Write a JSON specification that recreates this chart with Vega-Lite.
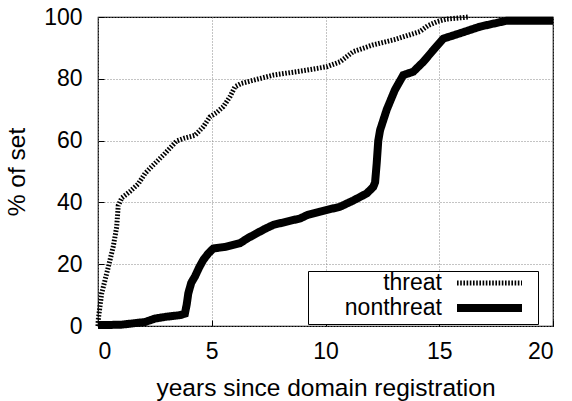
{
  "$schema": "https://vega.github.io/schema/vega-lite/v6.json",
  "width": 455,
  "height": 309,
  "autosize": {"type": "none"},
  "padding": {"left": 98, "top": 17, "right": 19, "bottom": 75},
  "background": "white",
  "config": {
    "font": "Liberation Sans",
    "view": {"stroke": "black", "strokeWidth": 1.2},
    "axis": {
      "domain": false,
      "labelFontSize": 23,
      "titleFontSize": 24.5,
      "titleFontWeight": "normal",
      "labelColor": "black",
      "titleColor": "black",
      "tickColor": "black",
      "gridColor": "#888888",
      "gridDash": [1, 2],
      "gridWidth": 1,
      "gridOpacity": 1
    },
    "legend": {
      "orient": "none",
      "legendX": 210,
      "legendY": 254,
      "strokeColor": "black",
      "fillColor": "white",
      "padding": 0,
      "cornerRadius": 0,
      "symbolType": "stroke",
      "symbolSize": 64,
      "symbolStrokeColor": "black",
      "labelFontSize": 23,
      "labelColor": "black",
      "labelLimit": 400,
      "rowPadding": -3
    }
  },
  "data": {
    "values": [
      {"series": "threat", "x": 0, "y": 0},
      {"series": "threat", "x": 0.01, "y": 2},
      {"series": "threat", "x": 0.16, "y": 10.5},
      {"series": "threat", "x": 0.45, "y": 19},
      {"series": "threat", "x": 0.67, "y": 25.7},
      {"series": "threat", "x": 0.82, "y": 32},
      {"series": "threat", "x": 0.89, "y": 39},
      {"series": "threat", "x": 1.05, "y": 41.5},
      {"series": "threat", "x": 1.4, "y": 43.5},
      {"series": "threat", "x": 1.77, "y": 46},
      {"series": "threat", "x": 2.07, "y": 49.4},
      {"series": "threat", "x": 2.36, "y": 51.6},
      {"series": "threat", "x": 2.95, "y": 55.9},
      {"series": "threat", "x": 3.46, "y": 59.9},
      {"series": "threat", "x": 3.8, "y": 60.8},
      {"series": "threat", "x": 4.26, "y": 61.7},
      {"series": "threat", "x": 4.5, "y": 63.5},
      {"series": "threat", "x": 4.63, "y": 64.5},
      {"series": "threat", "x": 4.92, "y": 67.7},
      {"series": "threat", "x": 5.2, "y": 69},
      {"series": "threat", "x": 5.51, "y": 71},
      {"series": "threat", "x": 5.8, "y": 74.2},
      {"series": "threat", "x": 6.02, "y": 77.4},
      {"series": "threat", "x": 6.3, "y": 78.5},
      {"series": "threat", "x": 6.76, "y": 79.4},
      {"series": "threat", "x": 7.7, "y": 81.2},
      {"series": "threat", "x": 8.73, "y": 82.3},
      {"series": "threat", "x": 9.17, "y": 82.8},
      {"series": "threat", "x": 10.05, "y": 83.9},
      {"series": "threat", "x": 10.64, "y": 85.5},
      {"series": "threat", "x": 11.22, "y": 88.8},
      {"series": "threat", "x": 12.1, "y": 91},
      {"series": "threat", "x": 13.1, "y": 92.8},
      {"series": "threat", "x": 13.6, "y": 94},
      {"series": "threat", "x": 14.15, "y": 95.3},
      {"series": "threat", "x": 14.5, "y": 97.2},
      {"series": "threat", "x": 14.9, "y": 98.5},
      {"series": "threat", "x": 15.3, "y": 99.3},
      {"series": "threat", "x": 16.3, "y": 100},
      {"series": "nonthreat", "x": 0, "y": 0.3},
      {"series": "nonthreat", "x": 1.0, "y": 0.4},
      {"series": "nonthreat", "x": 2.07, "y": 1.3},
      {"series": "nonthreat", "x": 2.5, "y": 2.4},
      {"series": "nonthreat", "x": 3.0, "y": 3.0},
      {"series": "nonthreat", "x": 3.6, "y": 3.5},
      {"series": "nonthreat", "x": 3.82, "y": 4.0},
      {"series": "nonthreat", "x": 3.9, "y": 7},
      {"series": "nonthreat", "x": 3.97, "y": 10.6},
      {"series": "nonthreat", "x": 4.1, "y": 14},
      {"series": "nonthreat", "x": 4.26, "y": 16},
      {"series": "nonthreat", "x": 4.45, "y": 19},
      {"series": "nonthreat", "x": 4.63, "y": 21.4},
      {"series": "nonthreat", "x": 4.85, "y": 23.5},
      {"series": "nonthreat", "x": 5.07, "y": 25.1},
      {"series": "nonthreat", "x": 5.6, "y": 25.6},
      {"series": "nonthreat", "x": 6.24, "y": 26.8},
      {"series": "nonthreat", "x": 6.6, "y": 28.5},
      {"series": "nonthreat", "x": 6.98, "y": 30},
      {"series": "nonthreat", "x": 7.3, "y": 31.3},
      {"series": "nonthreat", "x": 7.7, "y": 32.7},
      {"series": "nonthreat", "x": 8.3, "y": 33.8},
      {"series": "nonthreat", "x": 8.88, "y": 34.8},
      {"series": "nonthreat", "x": 9.2, "y": 35.9},
      {"series": "nonthreat", "x": 9.76, "y": 37},
      {"series": "nonthreat", "x": 10.64, "y": 38.6},
      {"series": "nonthreat", "x": 11.22, "y": 40.6},
      {"series": "nonthreat", "x": 11.81, "y": 42.9},
      {"series": "nonthreat", "x": 12.1, "y": 45},
      {"series": "nonthreat", "x": 12.18, "y": 46.5},
      {"series": "nonthreat", "x": 12.25, "y": 52.6},
      {"series": "nonthreat", "x": 12.32, "y": 60},
      {"series": "nonthreat", "x": 12.4, "y": 63.4},
      {"series": "nonthreat", "x": 12.69, "y": 70},
      {"series": "nonthreat", "x": 13.05, "y": 76.4},
      {"series": "nonthreat", "x": 13.42, "y": 81.2},
      {"series": "nonthreat", "x": 13.86, "y": 82.3},
      {"series": "nonthreat", "x": 14.3, "y": 85.5},
      {"series": "nonthreat", "x": 14.74, "y": 89.3},
      {"series": "nonthreat", "x": 15.18, "y": 93},
      {"series": "nonthreat", "x": 15.9, "y": 94.7},
      {"series": "nonthreat", "x": 16.8, "y": 96.9},
      {"series": "nonthreat", "x": 17.96, "y": 98.8},
      {"series": "nonthreat", "x": 20, "y": 98.8}
    ]
  },
  "mark": {"type": "line", "color": "black", "clip": false, "strokeCap": "butt"},
  "encoding": {
    "x": {
      "field": "x", "type": "quantitative",
      "scale": {"domain": [0, 20], "nice": false, "zero": false},
      "axis": {"values": [0, 5, 10, 15, 20], "title": "years since domain registration", "tickSize": -6, "labelPadding": 20, "titlePadding": 13}
    },
    "y": {
      "field": "y", "type": "quantitative",
      "scale": {"domain": [0, 100], "nice": false},
      "axis": {"values": [0, 20, 40, 60, 80, 100], "title": "% of set", "tickSize": -6, "labelPadding": 22, "titlePadding": 14}
    },
    "strokeDash": {
      "field": "series", "type": "nominal",
      "scale": {"domain": ["threat", "nonthreat"], "range": [[1.6, 1.6], [1, 0]]},
      "legend": {
        "title": null,
        "encode": {
          "entries": {"update": {"width": {"value": 227}, "height": {"value": 22}}},
          "labels": {"update": {"x": {"value": 134}, "y": {"value": 12}, "align": {"value": "right"}, "baseline": {"value": "middle"}}},
          "symbols": {"update": {"x": {"value": 181.5}, "y": {"value": 12}, "size": {"value": 4225}, "shape": {"value": "stroke"}}}
        }
      }
    },
    "strokeWidth": {
      "field": "series", "type": "nominal",
      "scale": {"domain": ["threat", "nonthreat"], "range": [5, 8]},
      "legend": {
        "title": null,
        "encode": {
          "entries": {"update": {"width": {"value": 227}, "height": {"value": 22}}},
          "labels": {"update": {"x": {"value": 134}, "y": {"value": 12}, "align": {"value": "right"}, "baseline": {"value": "middle"}}},
          "symbols": {"update": {"x": {"value": 181.5}, "y": {"value": 12}, "size": {"value": 4225}, "shape": {"value": "stroke"}}}
        }
      }
    },
    "order": {"field": "x", "type": "quantitative"}
  }
}
